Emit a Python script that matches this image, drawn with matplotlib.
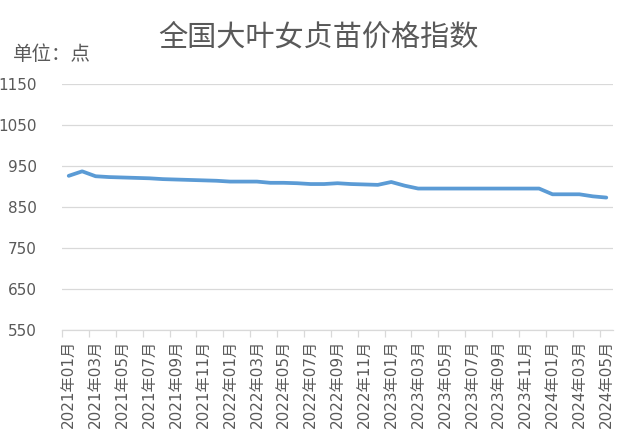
import matplotlib
matplotlib.use("Agg")
import matplotlib.pyplot as plt
import numpy as np

# data
months = []
for yr in range(2021, 2025):
    for m in range(1, 13):
        months.append(f"{yr}年{m:02d}月")
months = months[:41]  # 2021年01月 .. 2024年05月

index_values = [926, 937, 925, 923, 922, 921, 920, 918, 917, 916,
                915, 914, 912, 912, 912, 909, 909, 908, 906, 906,
                908, 906, 905, 904, 911, 902, 895, 895, 895, 895,
                895, 895, 895, 895, 895, 895, 881, 881, 881, 876,
                873]

y_ticks = [550, 650, 750, 850, 950, 1050, 1150]

title = "全国大叶女贞苗价格指数"
unit_label = "单位：点"

text_color = "#595959"
grid_color = "#D9D9D9"
line_color = "#5B9BD5"
fonts = ["DejaVu Sans", "Noto Sans CJK SC"]
cjk_fonts = ["Noto Sans CJK SC", "DejaVu Sans"]

fig = plt.figure(figsize=(6.34, 4.48), dpi=100)
ax = fig.add_axes([62 / 634, 1 - 330 / 448, (613 - 62) / 634, (330 - 84) / 448])

x = np.arange(len(months))
ax.plot(x, index_values, color=line_color, linewidth=2.7, solid_joinstyle="round",
        solid_capstyle="round")

ax.set_xlim(-0.5, len(months) - 0.5)
ax.set_ylim(550, 1150)
ax.set_yticks(y_ticks)
ax.set_yticklabels([str(v) for v in y_ticks], fontsize=11, color=text_color, family=fonts)
ax.yaxis.grid(True, color=grid_color, linewidth=0.9)
ax.set_axisbelow(True)
ax.tick_params(axis="y", length=0, pad=18)

# labels every 2 months at category centres, tick marks at category boundaries
ax.set_xticks(x[::2])
ax.set_xticklabels(months[::2], rotation=90, fontsize=11, color=text_color, family=fonts)
ax.set_xticks(np.arange(-0.5, len(months) - 0.5, 2), minor=True)
ax.tick_params(axis="x", which="major", length=0, pad=7)
ax.tick_params(axis="x", which="minor", length=5, color=grid_color, width=0.9)

for side in ["top", "right", "left"]:
    ax.spines[side].set_visible(False)
ax.spines["bottom"].set_color(grid_color)
ax.spines["bottom"].set_linewidth(0.9)

fig.text(318 / 634, 1 - 37 / 448, title, ha="center", va="center", fontsize=21,
         color=text_color, family=cjk_fonts)
fig.text(13 / 634, 1 - 55 / 448, unit_label, ha="left", va="center", fontsize=14,
         color=text_color, family=cjk_fonts)

fig.savefig("out.png", dpi=100)
